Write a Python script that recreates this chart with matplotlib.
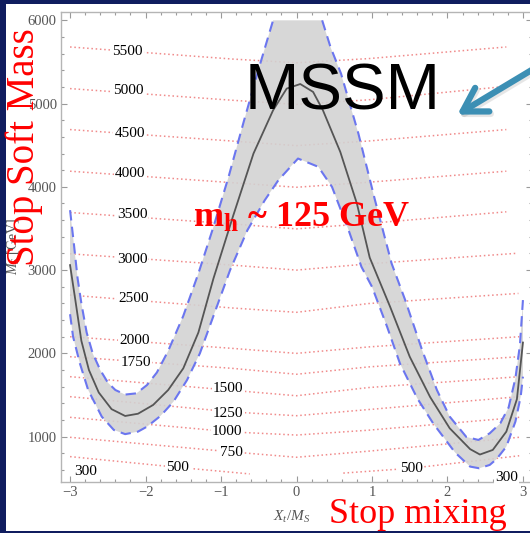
import numpy as np
import matplotlib.pyplot as plt
from matplotlib.patches import FancyArrowPatch, Rectangle
from matplotlib.ticker import MultipleLocator

plt.rcParams['font.family'] = ['Liberation Serif', 'DejaVu Serif']
plt.rcParams['mathtext.fontset'] = 'custom'
plt.rcParams['mathtext.rm'] = 'Liberation Serif'
plt.rcParams['mathtext.it'] = 'Liberation Serif:italic'
plt.rcParams['mathtext.bf'] = 'Liberation Serif:bold'

# central m_h = 125 GeV curve (X_t/M_S, M_S)
center_x = [-3.0, -2.93, -2.85, -2.75, -2.62, -2.45, -2.27, -2.1, -1.9, -1.7, -1.5, -1.3,
            -1.1, -0.84, -0.57, -0.31, -0.13, 0.05, 0.22, 0.35, 0.58, 0.8, 0.97, 1.24,
            1.5, 1.77, 2.03, 2.3, 2.43, 2.6, 2.78, 2.92, 3.0]
center_y = [3060, 2640, 2150, 1800, 1530, 1330, 1248, 1275, 1380, 1560, 1820, 2250,
            2900, 3650, 4400, 4920, 5180, 5235, 5140, 4920, 4420, 3800, 3150, 2560,
            1960, 1476, 1100, 850, 785, 840, 1060, 1450, 2130]

# band edges
upper_x = [-3.0, -2.95, -2.9, -2.85, -2.78, -2.7, -2.6, -2.5, -2.4, -2.27, -2.12, -1.98,
           -1.85, -1.7, -1.5, -1.3, -1.1, -0.9, -0.7, -0.5, -0.31, 0.34, 0.45, 0.59,
           0.82, 1.04, 1.26, 1.44, 1.66, 1.86, 2.03, 2.25, 2.41, 2.56, 2.7, 2.81, 2.9,
           2.96, 3.0]
upper_y = [3720, 3320, 2900, 2600, 2250, 2000, 1800, 1650, 1560, 1505, 1520, 1620,
           1770, 2030, 2450, 2960, 3520, 4120, 4780, 5420, 6000, 6000, 5680, 5360,
           4640, 3840, 3080, 2640, 2050, 1560, 1240, 996, 960, 1040, 1160, 1350, 1700,
           2100, 2640]
lower_x = [-3.0, -2.96, -2.87, -2.76, -2.58, -2.42, -2.27, -2.1, -1.98, -1.8, -1.63,
           -1.45, -1.28, -1.08, -0.88, -0.65, -0.42, -0.24, 0.02, 0.29, 0.47, 0.69, 0.86,
           1.0, 1.2, 1.37, 1.6, 1.81, 2.1, 2.3, 2.42, 2.56, 2.65, 2.78, 2.9, 2.97, 3.0]
lower_y = [2470, 2200, 1880, 1560, 1240, 1080, 1030, 1060, 1120, 1250, 1420,
           1680, 2000, 2500, 3000, 3480, 3840, 4080, 4340, 4240, 4000, 3480, 3040,
           2800, 2320, 1880, 1460, 1160, 810, 640, 620, 660, 730, 880, 1180, 1480, 1720]

# stop mass contours
contour_levels = [5500, 5000, 4500, 4000, 3500, 3000, 2500, 2000, 1750, 1500, 1250, 1000, 750]
contour_nodes = [-3.0, -0.85, 0.0, 0.95]
contour_at_m3 = [5680, 5180, 4688, 4188, 3692, 3196, 2700, 2200, 1960, 1720, 1480, 1232, 992]
contour_at_m085 = [5535, 5040, 4550, 4050, 3555, 3060, 2545, 2060, 1820, 1556, 1296, 1056, 816]
contour_at_0 = [5490, 4990, 4495, 3995, 3495, 3000, 2493, 2000, 1749, 1491, 1251, 1019, 752]
contour_at_095 = [5540, 5045, 4550, 4055, 3560, 3075, 2598, 2077, 1837, 1589, 1325, 1077, 825]
contour_end_x = [2.78, 2.78, 2.78, 2.78, 2.78, 2.92, 2.94, 2.95, 2.95, 2.95, 2.95, 2.95, 2.95]
contour_end_y = [5680, 5207, 4688, 4188, 3700, 3202, 2720, 2200, 1960, 1720, 1480, 1232, 992]
c500_left_x = [-3.0, -1.57, -0.62]
c500_left_y = [760, 631, 552]
c500_right_x = [0.62, 1.52, 2.95]
c500_right_y = [562, 620, 770]

# contour labels
label_text = ['5500', '5000', '4500', '4000', '3500', '3000', '2500', '2000', '1750',
              '1500', '1250', '1000', '750', '500', '500', '300', '300']
label_x = [-2.245, -2.228, -2.21, -2.2, -2.18, -2.18, -2.16, -2.14, -2.13,
           -0.907, -0.907, -0.92, -0.86, -1.57, 1.517, -2.79, 2.78]
label_y = [5631, 5154, 4643, 4162, 3670, 3130, 2661, 2160, 1888,
           1572, 1280, 1059, 807, 631, 620, 579, 512]

xticks = [-3, -2, -1, 0, 1, 2, 3]
yticks = [1000, 2000, 3000, 4000, 5000, 6000]

W, H = 530, 533
fig = plt.figure(figsize=(W / 100, H / 100), dpi=100)
fig.patch.set_facecolor('#101d5f')
fig.add_artist(Rectangle((6 / W, 2 / H), 524 / W, 527 / H, transform=fig.transFigure,
                         facecolor='white', edgecolor='none', zorder=0))

ax = fig.add_axes([61 / W, 1 - 482 / H, 471 / W, 470 / H])
ax.set_facecolor('white')
ax.set_xlim(-3.12, 3.12)
ax.set_ylim(455, 6100)

dot = dict(color='#f08a8a', lw=1.1, ls=(0, (1, 1.8)), zorder=1.5)
for i in range(len(contour_levels)):
    xs = contour_nodes + [contour_end_x[i]]
    ys = [contour_at_m3[i], contour_at_m085[i], contour_at_0[i], contour_at_095[i], contour_end_y[i]]
    ax.plot(xs, ys, **dot)
ax.plot(c500_left_x, c500_left_y, **dot)
ax.plot(c500_right_x, c500_right_y, **dot)

# gray band
ax.fill(upper_x + lower_x[::-1], upper_y + lower_y[::-1], color='#d2d2d2', alpha=0.88, lw=0, zorder=2)

ux = np.array(upper_x)
uy = np.array(upper_y)
top = np.where(uy >= 6000)[0]
dash = dict(color='#6b76ef', lw=1.5, ls=(0, (5, 3)), zorder=4)
ax.plot(ux[:top[0] + 1], uy[:top[0] + 1], **dash)
ax.plot(ux[top[-1]:], uy[top[-1]:], **dash)
ax.plot(lower_x, lower_y, **dash)
ax.plot(center_x, center_y, color='#555555', lw=1.3, zorder=4)

for t, x, y in zip(label_text, label_x, label_y):
    ax.text(x, y, t, ha='center', va='center', fontsize=11, color='black', zorder=3,
            bbox=dict(boxstyle='square,pad=0.08', fc='white', ec='none'))

for s in ax.spines.values():
    s.set_color('#b5b5b5')
    s.set_linewidth(1.0)
ax.set_xticks(xticks)
ax.set_yticks(yticks)
ax.xaxis.set_minor_locator(MultipleLocator(0.2))
ax.yaxis.set_minor_locator(MultipleLocator(200))
ax.tick_params(which='both', direction='in', top=True, right=True, color='#9a9a9a',
               labelcolor='#555555', labelsize=10.5, width=0.8)
ax.tick_params(which='major', length=4.5, pad=3)
ax.tick_params(which='minor', length=2.5)

ax.set_xlabel(r'$X_t/M_S$', fontsize=11, color='#555555', va='center')
ax.xaxis.set_label_coords((292 - 61) / 471, (482 - 517) / 470)
ax.set_ylabel(r'$M_S$ [GeV]', fontsize=10, color='#555555', va='center', ha='center')
ax.yaxis.set_label_coords((13 - 61) / 471, 0.5)

# slide annotations
fig.text(24 / W, 1 - 147 / H, 'Stop Soft Mass', rotation=90, ha='center', va='center',
         fontsize=28, color='#ff0000', zorder=10)
fig.text(417.5 / W, 1 - 523 / H, 'Stop mixing', ha='center', va='baseline',
         fontsize=26, color='#ff0000', zorder=10)
fig.text(193 / W, 1 - 227 / H, r'$\mathbf{m_h}$ ~ 125 GeV', ha='left', va='baseline',
         fontsize=26, color='#ff0000', fontweight='bold', zorder=10)
fig.text(342.5 / W, 1 - 110 / H, 'MSSM', ha='center', va='baseline',
         fontsize=47, color='black', family='Liberation Sans', zorder=10)

for off, col, al in [((1.5 / W, -2.5 / H), '#777777', 0.18), ((0, 0), '#3c8fb4', 1.0)]:
    arr = FancyArrowPatch((545 / W + off[0], 1 - 62 / H + off[1]),
                          (455 / W + off[0], 1 - 116 / H + off[1]),
                          transform=fig.transFigure, arrowstyle='->,head_length=0.75,head_width=0.45',
                          mutation_scale=22, color=col, alpha=al, lw=4.5, zorder=9)
    fig.add_artist(arr)

fig.savefig('out.png', dpi=100, facecolor=fig.get_facecolor())
